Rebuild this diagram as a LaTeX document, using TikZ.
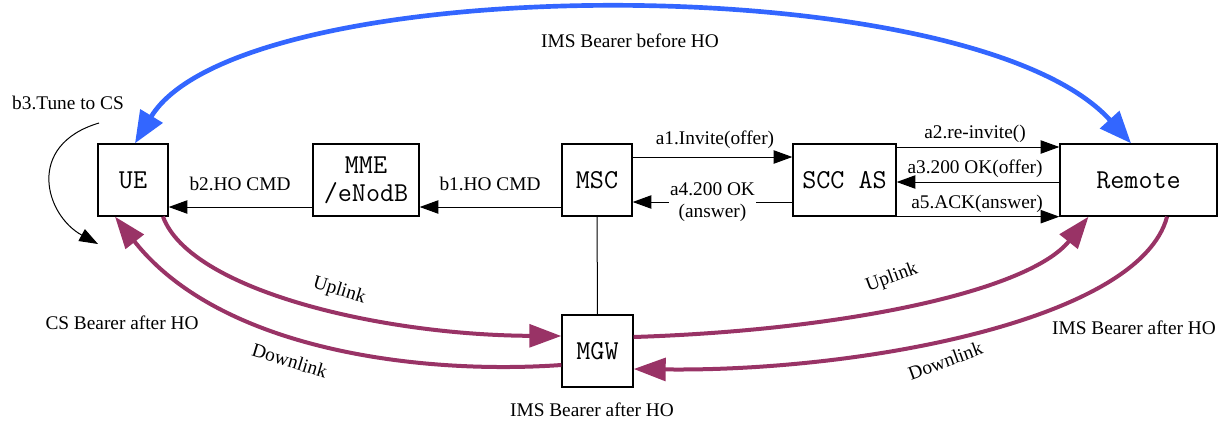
\documentclass[tikz,border=0pt]{standalone}
\usepackage{fontspec}
\setmainfont{Liberation Serif}
\usetikzlibrary{arrows.meta, calc}
\definecolor{imsblue}{RGB}{51,102,255}
\definecolor{bearer}{RGB}{153,51,102}

\begin{document}
\begin{tikzpicture}[x=0.75pt, y=-0.75pt,
    entity/.style={draw, line width=1pt, minimum height=54pt, inner sep=0pt, align=center, font=\ttfamily\fontsize{20.5}{21}\selectfont\addfontfeatures{FakeStretch=0.84}},
    lbl/.style={font=\fontsize{14.5}{17}\selectfont, inner sep=1pt, text height=11pt, text depth=4pt},
    msg/.style={line width=0.75pt, -{Triangle[length=14pt,width=10pt]}},
    ims/.style={imsblue, line width=3.5pt, {Triangle[length=24pt,width=19pt]}-{Triangle[length=24pt,width=19pt]}},
    flow/.style={bearer, line width=3pt, -{Triangle[length=24pt,width=17pt]}}]
    \useasboundingbox (0,0) rectangle (1223,422);

    % network elements
    \node[entity, minimum width=52.5pt] (UE) at (133,180) {UE};
    \node[entity, minimum width=79.5pt] (MME) at (366,180) {MME\\/eNodB};
    \node[entity, minimum width=52.5pt] (MSC) at (597,180) {MSC};
    \node[entity, minimum width=77.25pt] (SCC) at (844.5,180) {SCC AS};
    \node[entity, minimum width=117.75pt] (Remote) at (1138.5,180) {Remote};
    \node[entity, minimum width=53.25pt] (MGW) at (597.5,351) {MGW};

    % handover command
    \draw[msg] ([yshift=-20.25pt]MSC.west) -- ([yshift=-20.25pt]MME.east);
    \draw[msg] ([yshift=-20.25pt]MME.west) -- ([yshift=-20.25pt]UE.east);
    \node[lbl] (b1) at (490,186) {b1.HO CMD};
    \node[lbl] (b2) at (240,186) {b2.HO CMD};

    % session transfer
    \draw[msg] ([yshift=17.25pt]MSC.east) -- ([yshift=17.25pt]SCC.west);
    \node[lbl] (a1) at (715,140) {a1.Invite(offer)};
    \draw[msg] ([yshift=24.75pt]SCC.east) -- ([yshift=24.75pt]Remote.west);
    \node[lbl] (a2) at (975,134) {a2.re-invite()};
    \draw[msg] ([yshift=-1.5pt]Remote.west) -- ([yshift=-1.5pt]SCC.east);
    \node[lbl] (a3) at (975,169) {a3.200 OK(offer)};
    \draw[msg] ([yshift=-16.5pt]SCC.west) -- node[lbl, fill=white, align=center, text height=, text depth=] (a4) {a4.200 OK\\(answer)} ([yshift=-16.5pt]MSC.east);
    \draw[msg] ([yshift=-27.5pt]SCC.east) -- ([yshift=-27.5pt]Remote.west);
    \node[lbl] (a5) at (977,204) {a5.ACK(answer)};

    \draw[line width=0.75pt] (MSC) -- (MGW);

    % tune to CS
    \draw[msg] (99,123) .. controls (25,145) and (45,215) .. (98,244);
    \node[lbl] (b3) at (68,105) {b3.Tune to CS};

    % bearers
    \draw[ims] ([xshift=1.5pt]UE.north) .. controls (240,-30) and (970,-35) .. ([xshift=-5.6pt]Remote.north);
    \node[lbl] (before) at (630,43) {IMS Bearer before HO};

    \draw[flow] ([xshift=22.5pt]UE.south) .. controls (190,290) and (380,335) .. ([yshift=11.25pt]MGW.west);
    \draw[flow] ([yshift=-10.5pt]MGW.west) .. controls (420,375) and (220,350) .. ([xshift=-13.5pt]UE.south);
    \draw[flow] ([yshift=10.5pt]MGW.east) .. controls (850,330) and (1030,290) .. ([xshift=-37.5pt]Remote.south);
    \draw[flow] ([xshift=21.4pt]Remote.south) .. controls (1140,320) and (860,372) .. ([yshift=-13.5pt]MGW.east);

    \node[lbl, rotate=-17, text depth=0pt] (upl) at (340,288) {Uplink};
    \node[lbl, rotate=-17, text depth=0pt] (dnl) at (290,360) {Downlink};
    \node[lbl, rotate=20, text depth=0pt] (upr) at (891,275) {Uplink};
    \node[lbl, rotate=20, text depth=0pt] (dnr) at (945,360) {Downlink};
    \node[lbl] (csafter) at (122,325) {CS Bearer after HO};
    \node[lbl] (imsmgw) at (592,412) {IMS Bearer after HO};
    \node[lbl] (imsrem) at (1134,330) {IMS Bearer after HO};
\end{tikzpicture}
\end{document}
